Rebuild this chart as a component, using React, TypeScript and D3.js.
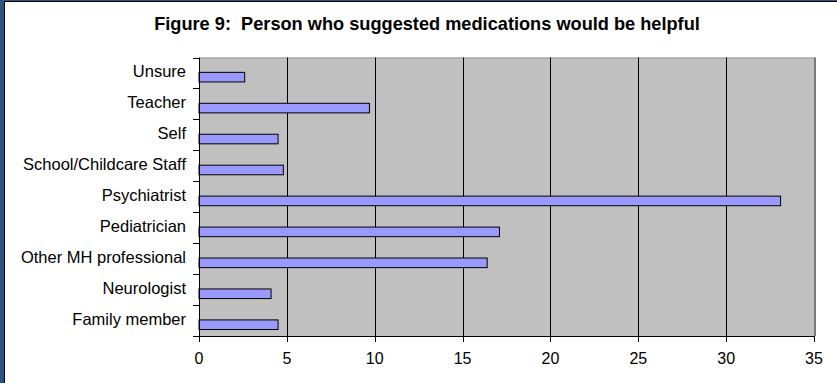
import React from "react";
import * as d3 from "d3";

const title = "Figure 9:  Person who suggested medications would be helpful";
const categories = [
  "Unsure",
  "Teacher",
  "Self",
  "School/Childcare Staff",
  "Psychiatrist",
  "Pediatrician",
  "Other MH professional",
  "Neurologist",
  "Family member",
];
const values = [2.6, 9.7, 4.5, 4.8, 33.1, 17.1, 16.4, 4.1, 4.5];
const xTicks = [0, 5, 10, 15, 20, 25, 30, 35];

const W = 837;
const H = 383;
const left = 199;
const right = 814;
const top = 57.5;
const bottom = 336;
const font = "'Liberation Sans', Arial, sans-serif";

export default function App() {
  const x = d3.scaleLinear().domain([0, 35]).range([left, right]);
  const y = d3.scaleBand<string>().domain(categories).range([top, bottom]).padding(0);
  const bw = y.bandwidth();
  const bounds = [...categories.map((c) => y(c) as number), bottom];

  return (
    <div style={{ position: "fixed", left: 0, top: 0 }}>
      <svg width={W} height={H} style={{ display: "block" }}>
        <rect x={0} y={0} width={W} height={H} fill="#2C5381" />
        <rect x={4} y={1} width={W - 4} height={H - 1} fill="#000" />
        <rect x={5} y={2} width={W - 5} height={H - 2} fill="#fff" />
        <text
          x={427}
          y={30}
          textAnchor="middle"
          fontFamily={font}
          fontWeight="bold"
          fontSize={18.2}
          fill="#000"
          style={{ whiteSpace: "pre" }}
        >
          {title}
        </text>
        {/* plot area */}
        <rect x={left} y={top} width={right - left} height={bottom - top} fill="#C0C0C0" />
        <line x1={left} x2={right + 1} y1={top + 0.5} y2={top + 0.5} stroke="#9a9a9a" />
        <line x1={right + 1} x2={right + 1} y1={top} y2={bottom} stroke="#7a7a7a" strokeWidth={2} />
        {xTicks.slice(1, -1).map((t) => (
          <line
            key={"g" + t}
            x1={Math.round(x(t)) + 0.5}
            x2={Math.round(x(t)) + 0.5}
            y1={top}
            y2={bottom}
            stroke="#000"
            strokeWidth={1}
          />
        ))}
        {categories.map((c, i) => (
          <rect
            key={"b" + c}
            x={x(0)}
            y={(y(c) as number) + bw * 0.48}
            width={x(values[i]) - x(0)}
            height={bw * 0.31}
            fill="#9999FF"
            stroke="#000"
            strokeWidth={1}
          />
        ))}
        {/* axes */}
        <line x1={left + 0.5} x2={left + 0.5} y1={top} y2={bottom + 6} stroke="#000" />
        <line x1={left - 6} x2={right + 1} y1={bottom + 0.5} y2={bottom + 0.5} stroke="#000" />
        {bounds.map((b, i) => (
          <line key={"yt" + i} x1={left - 6} x2={left} y1={Math.round(b) + 0.5} y2={Math.round(b) + 0.5} stroke="#000" />
        ))}
        {xTicks.map((t) => (
          <line
            key={"xt" + t}
            x1={Math.round(x(t)) + 0.5}
            x2={Math.round(x(t)) + 0.5}
            y1={bottom}
            y2={bottom + 6}
            stroke="#000"
          />
        ))}
        {categories.map((c) => (
          <text
            key={"l" + c}
            x={186}
            y={(y(c) as number) + bw * 0.64}
            textAnchor="end"
            fontFamily={font}
            fontSize={16.5}
            fill="#000"
          >
            {c}
          </text>
        ))}
        {xTicks.map((t) => (
          <text
            key={"xl" + t}
            x={x(t)}
            y={364}
            textAnchor="middle"
            fontFamily={font}
            fontSize={16}
            fill="#000"
          >
            {t}
          </text>
        ))}
      </svg>
    </div>
  );
}
